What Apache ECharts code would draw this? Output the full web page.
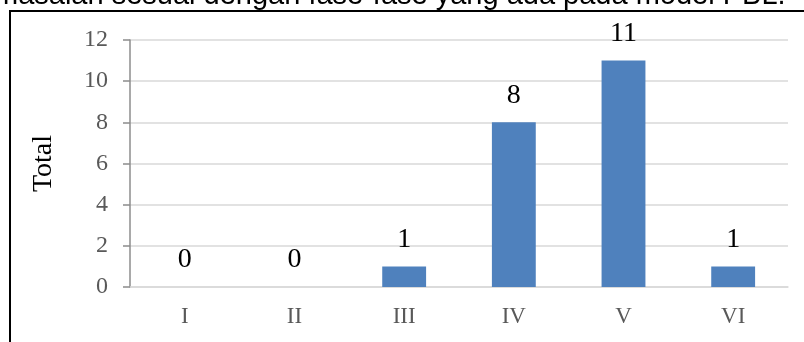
<!DOCTYPE html>
<html>
<head>
<meta charset="utf-8">
<script src="https://cdn.jsdelivr.net/npm/echarts@6/dist/echarts.min.js"></script>
<style>
html, body { margin: 0; padding: 0; background: #fff; }
#chart { width: 804px; height: 342px; }
</style>
</head>
<body>
<div id="chart"></div>
<script>
// fase-fase PBL
var categories = ['I', 'II', 'III', 'IV', 'V', 'VI'];
var totals = [0, 0, 1, 8, 11, 1];
var yTicks = [0, 2, 4, 6, 8, 10, 12];

var chart = echarts.init(document.getElementById('chart'));

var option = {
	backgroundColor: '#ffffff',
	animation: false,
	grid: {
		left: 130,
		right: 16,
		top: 40,
		bottom: 55
	},
	graphic: [
		{
			type: 'text',
			style: {
				x: -6,
				y: -4,
				text: 'masalah sesuai dengan fase-fase yang ada pada model PBL.',
				verticalAlign: 'middle',
				fontFamily: 'Liberation Sans',
				fontSize: 29,
				fill: '#000'
			}
		},
		{
			type: 'rect',
			shape: { x: 10, y: 11, width: 820, height: 360 },
			style: { fill: 'none', stroke: '#000', lineWidth: 2 }
		}
	],
	xAxis: {
		type: 'category',
		data: categories,
		axisTick: { show: false },
		axisLine: { lineStyle: { color: '#d9d9d9', width: 1.5 } },
		axisLabel: {
			margin: 18,
			fontFamily: 'Liberation Serif',
			fontSize: 23,
			color: '#595959'
		}
	},
	yAxis: {
		type: 'value',
		min: yTicks[0],
		max: yTicks[yTicks.length - 1],
		interval: 2,
		name: 'Total',
		nameLocation: 'middle',
		nameGap: 72,
		nameRotate: 90,
		nameTextStyle: {
			fontFamily: 'Liberation Serif',
			fontSize: 28,
			color: '#000'
		},
		axisLine: { show: true, lineStyle: { color: '#8c8c8c', width: 1.5 } },
		axisTick: { show: true, length: 7, lineStyle: { color: '#8c8c8c', width: 1.5 } },
		axisLabel: {
			margin: 22,
			fontFamily: 'Liberation Serif',
			fontSize: 24,
			color: '#595959'
		},
		splitLine: { lineStyle: { color: '#d9d9d9', width: 1.5 } }
	},
	series: [{
		type: 'bar',
		data: totals,
		barWidth: '40%',
		itemStyle: { color: '#4f81bd' },
		label: {
			show: true,
			position: 'top',
			distance: 13,
			fontFamily: 'Liberation Serif',
			fontSize: 28,
			color: '#000'
		}
	}]
};

chart.setOption(option);
</script>
</body>
</html>
